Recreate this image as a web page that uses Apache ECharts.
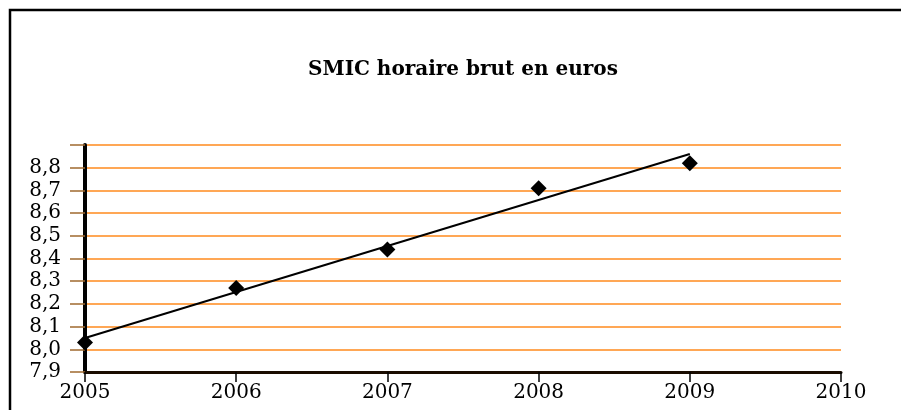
<!DOCTYPE html>
<html>
<head>
<meta charset="utf-8">
<script src="https://cdn.jsdelivr.net/npm/echarts@6/dist/echarts.min.js"></script>
<style>
  html, body { margin: 0; padding: 0; background: #fff; }
  #chart { width: 901px; height: 410px; }
</style>
</head>
<body>
<div id="chart"></div>
<script>
var titleText = 'SMIC horaire brut en euros';
var years = [2005, 2006, 2007, 2008, 2009];
var smicValues = [8.03, 8.27, 8.44, 8.71, 8.82];
// trend line end points
var trendYears = [2005, 2009];
var trendValues = [8.05, 8.86];
var yTickLabels = ['7,9', '8,0', '8,1', '8,2', '8,3', '8,4', '8,5', '8,6', '8,7', '8,8', ''];
var xTickLabels = ['2005', '2006', '2007', '2008', '2009', '2010'];

var serif = 'DejaVu Serif';
var gridColor = '#ff8a1c';

function pairs(xs, ys) {
    var out = [];
    for (var i = 0; i < xs.length; i++) {
        out.push([xs[i], ys[i]]);
    }
    return out;
}

var option = {
    backgroundColor: '#fff',
    animation: false,
    title: {
        text: titleText,
        left: 458,
        top: 55,
        textAlign: 'center',
        textStyle: {
            fontFamily: serif,
            fontWeight: 'bold',
            fontSize: 20,
            color: '#000'
        }
    },
    grid: {
        left: 85,
        right: 60,
        top: 145,
        bottom: 38
    },
    xAxis: {
        type: 'value',
        min: 2005,
        max: 2010,
        interval: 1,
        splitLine: { show: false },
        axisLine: { lineStyle: { color: '#1a0c00', width: 3 } },
        axisTick: {
            show: true,
            length: 10,
            interval: function (index, value) { return value === 2005; },
            lineStyle: { color: '#000', width: 1.5 }
        },
        axisLabel: {
            margin: 11,
            fontFamily: serif,
            fontSize: 20,
            color: '#000',
            formatter: function (v) {
                return xTickLabels[Math.round(v - 2005)];
            }
        }
    },
    yAxis: {
        type: 'value',
        min: 7.9,
        max: 8.9,
        interval: 0.1,
        axisLine: { show: true, lineStyle: { color: '#000', width: 4 } },
        axisTick: {
            show: true,
            length: 15,
            lineStyle: { color: '#a0692f', width: 1.5 }
        },
        splitLine: { show: true, lineStyle: { color: gridColor, width: 1.5 } },
        axisLabel: {
            margin: 24,
            fontFamily: serif,
            fontSize: 20,
            color: '#000',
            formatter: function (v) {
                return yTickLabels[Math.round((v - 7.9) * 10)];
            }
        }
    },
    graphic: [
        {
            type: 'polyline',
            shape: { points: [[10, 410], [10, 10], [901, 10]] },
            style: { stroke: '#000', lineWidth: 2.5, fill: null },
            silent: true
        }
    ],
    series: [
        {
            type: 'line',
            data: pairs(trendYears, trendValues),
            symbol: 'none',
            lineStyle: { color: '#000', width: 2 },
            z: 3
        },
        {
            type: 'scatter',
            data: pairs(years, smicValues),
            symbol: 'diamond',
            symbolSize: [16, 16],
            itemStyle: { color: '#000', opacity: 1 },
            z: 4
        }
    ]
};

var myChart = echarts.init(document.getElementById('chart'));
myChart.setOption(option);
</script>
</body>
</html>
